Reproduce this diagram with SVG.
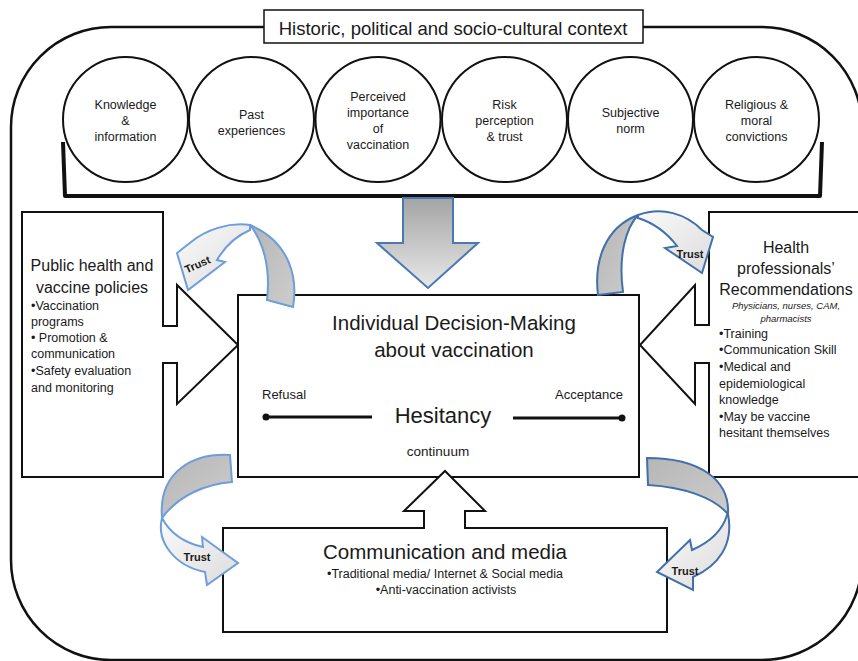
<svg xmlns="http://www.w3.org/2000/svg" width="858" height="661" viewBox="0 0 858 661">
<defs>
<style>
text{font-family:"Liberation Sans",Arial,sans-serif;fill:#1a1a1a}
.c{text-anchor:middle}
.e{text-anchor:end}
.circ{fill:#fff;stroke:#111;stroke-width:2}
.box{fill:#fff;stroke:#111;stroke-width:2}
.sm{font-size:12.5px}
.tr{font-size:11px;font-weight:bold}
.bl{stroke:#6d9eda;stroke-width:2;stroke-linejoin:miter}
.br{stroke:#4170aa;stroke-width:2;stroke-linejoin:miter}
</style>
<linearGradient id="gDown" x1="0" y1="0" x2="0" y2="1">
<stop offset="0" stop-color="#a4a4a4"/><stop offset="1" stop-color="#e8e8e8"/>
</linearGradient>
<linearGradient id="gGray" x1="0" y1="0" x2="1" y2="1">
<stop offset="0" stop-color="#b6b6b6"/><stop offset="1" stop-color="#cdcdcd"/>
</linearGradient>
<linearGradient id="gLight" x1="0" y1="0" x2="1" y2="1">
<stop offset="0" stop-color="#fafafa"/><stop offset="1" stop-color="#dcdcdc"/>
</linearGradient>
</defs>

<g id="context-frame">
<rect x="11" y="27" width="851" height="633" rx="100" ry="100" fill="#fff" stroke="#111" stroke-width="2.5"/>
</g>
<g id="title">
<rect x="264" y="10" width="379" height="33" fill="#fff" stroke="#111" stroke-width="1.5"/>
<text class="c" x="453" y="35" font-size="18.5">Historic, political and socio-cultural context</text>
</g>

<g id="circle-knowledge">
<circle class="circ" cx="125.5" cy="119.5" r="62.5"/>
<text class="c sm" x="125.5" y="108.5">Knowledge</text>
<text class="c sm" x="125.5" y="124.5">&amp;</text>
<text class="c sm" x="125.5" y="140.5">information</text>
</g>
<g id="circle-past">
<circle class="circ" cx="251.5" cy="119.5" r="62.5"/>
<text class="c sm" x="251.5" y="118.5">Past</text>
<text class="c sm" x="251.5" y="134.5">experiences</text>
</g>
<g id="circle-importance">
<circle class="circ" cx="378" cy="119.5" r="62.5"/>
<text class="c sm" x="378" y="100.5">Perceived</text>
<text class="c sm" x="378" y="116.5">importance</text>
<text class="c sm" x="378" y="132.5">of</text>
<text class="c sm" x="378" y="149">vaccination</text>
</g>
<g id="circle-risk">
<circle class="circ" cx="504.5" cy="119.5" r="62.5"/>
<text class="c sm" x="504.5" y="108.5">Risk</text>
<text class="c sm" x="504.5" y="124.5">perception</text>
<text class="c sm" x="504.5" y="140.5">&amp; trust</text>
</g>
<g id="circle-norm">
<circle class="circ" cx="630.5" cy="119.5" r="62.5"/>
<text class="c sm" x="630.5" y="116.5">Subjective</text>
<text class="c sm" x="630.5" y="132.5">norm</text>
</g>
<g id="circle-religious">
<circle class="circ" cx="756.5" cy="119.5" r="62.5"/>
<text class="c sm" x="756.5" y="108.5">Religious &amp;</text>
<text class="c sm" x="756.5" y="124.5">moral</text>
<text class="c sm" x="756.5" y="140.5">convictions</text>
</g>

<g id="bracket">
<path d="M63,142 L65,196 L820,196 L822,142" fill="none" stroke="#111" stroke-width="4" stroke-linejoin="round"/>
</g>

<g id="public-health">
<path class="box" d="M22,212 L163,212 L163,326 L177,326 L177,285 L238,345 L177,404 L177,363 L163,363 L163,477 L22,477 Z"/>
<text class="c" x="92" y="271" font-size="16">Public health and</text>
<text class="c" x="92" y="293" font-size="16">vaccine policies</text>
<text class="sm" x="31" y="310">•Vaccination</text>
<text class="sm" x="31" y="326">programs</text>
<text class="sm" x="31" y="342">• Promotion &amp;</text>
<text class="sm" x="31" y="358">communication</text>
<text class="sm" x="31" y="375">•Safety evaluation</text>
<text class="sm" x="31" y="392">and monitoring</text>
</g>

<g id="health-professionals">
<path class="box" d="M875,212 L709,212 L709,325 L695,325 L695,285 L640,345 L695,404 L695,363 L709,363 L709,477 L875,477"/>
<text class="c" x="786" y="253" font-size="16">Health</text>
<text class="c" x="786" y="274" font-size="16">professionals’</text>
<text class="c" x="786" y="295" font-size="16">Recommendations</text>
<text class="c" x="786" y="308.5" font-size="9.5" font-style="italic">Physicians, nurses, CAM,</text>
<text class="c" x="786" y="321.5" font-size="9.5" font-style="italic">pharmacists</text>
<text class="sm" x="719" y="337.5">•Training</text>
<text class="sm" x="719" y="353.5">•Communication Skill</text>
<text class="sm" x="719" y="370.5">•Medical and</text>
<text class="sm" x="719" y="387.5">epidemiological</text>
<text class="sm" x="719" y="403.5">knowledge</text>
<text class="sm" x="719" y="420.5">•May be vaccine</text>
<text class="sm" x="719" y="436.5">hesitant themselves</text>
</g>

<g id="individual-decision">
<rect class="box" x="238" y="295" width="401" height="182"/>
<text class="c" x="454" y="330" font-size="20.5">Individual Decision-Making</text>
<text class="c" x="454" y="357" font-size="20.5">about vaccination</text>
<text x="262" y="399" font-size="13">Refusal</text>
<text class="e" x="623" y="399" font-size="13">Acceptance</text>
<text class="c" x="443" y="423" font-size="22">Hesitancy</text>
<text class="c" x="438" y="456" font-size="13.5">continuum</text>
<line x1="266" y1="417" x2="372" y2="417" stroke="#111" stroke-width="3"/>
<circle cx="266" cy="417" r="3.5" fill="#111"/>
<line x1="513" y1="418" x2="622" y2="418" stroke="#111" stroke-width="3"/>
<circle cx="622" cy="418" r="3.5" fill="#111"/>
</g>

<g id="communication-media">
<path class="box" d="M223,528 L424,528 L424,511 L404,511 L445,471 L485,511 L465,511 L465,528 L667,528 L667,632 L223,632 Z"/>
<text class="c" x="445" y="559" font-size="20.5">Communication and media</text>
<text class="c sm" x="445" y="577.5">•Traditional media/ Internet &amp; Social media</text>
<text class="c sm" x="446" y="593.5">•Anti-vaccination activists</text>
</g>

<g id="connectors">
<polygon points="403,198 453,198 453,243 478,243 428,288 377,243 403,243" fill="url(#gDown)" stroke="#4a78b4" stroke-width="2"/>

<g id="trust-top-left">
<path class="bl" fill="url(#gGray)" d="M267,300 L293,307 C298,278 290,242 250,225 C262,240 271,265 267,300 Z"/>
<path class="bl" fill="url(#gLight)" d="M250,225 C228,222 206,230 191,242 L177,253 L188,290 L225,262 L217,260 C224,248 236,236 250,230 Z"/>
<text class="c tr" transform="translate(199,268) rotate(-24)">Trust</text>
</g>

<g id="trust-top-right">
<path class="br" fill="url(#gGray)" d="M598,295 C594,262 604,228 638,215 C626,228 618,255 623,292 Z"/>
<path class="br" fill="url(#gLight)" d="M638,215 C662,206 686,214 702,230 L713,237 L702,273 L665,248 L677,246 C667,233 654,223 638,218 Z"/>
<text class="c tr" x="690" y="258">Trust</text>
</g>

<g id="trust-bottom-left">
<path class="bl" fill="url(#gGray)" d="M230,455 L232,482 C205,484 178,496 162,518 C158,470 195,453 230,455 Z"/>
<path class="bl" fill="url(#gLight)" d="M162,518 C156,542 175,566 205,572 L207,585 L238,563 L202,537 L203,547 C185,543 170,533 162,518 Z"/>
<text class="c tr" x="197" y="561">Trust</text>
</g>

<g id="trust-bottom-right">
<path class="br" fill="url(#gGray)" d="M647,458 L648,485 C683,487 713,497 728,514 C730,480 700,458 647,458 Z"/>
<path class="br" fill="url(#gLight)" d="M728,514 C734,545 718,566 693,577 L693,590 L657,572 L690,540 L692,550 C708,543 722,532 727,515 Z"/>
<text class="c tr" x="685" y="575">Trust</text>
</g>
</g>
</svg>
